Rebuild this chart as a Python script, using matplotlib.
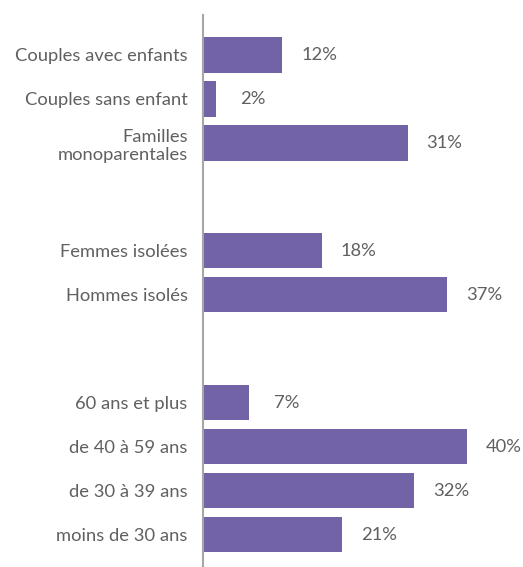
import matplotlib.pyplot as plt
from matplotlib.transforms import offset_copy

# ================== données ==================
categories = ['Couples avec enfants', 'Couples sans enfant', 'Familles\nmonoparentales',
              'Femmes isolées', 'Hommes isolés',
              '60 ans et plus', 'de 40 à 59 ans', 'de 30 à 39 ans', 'moins de 30 ans']
values = [12, 2, 31, 18, 37, 7, 40, 32, 21]
value_labels = ['12%', '2%', '31%', '18%', '37%', '7%', '40%', '32%', '21%']

# positions (3 groupes séparés par un espace)
positions = [0, 1, 2, 4.45, 5.45, 7.9, 8.9, 9.9, 10.9]

bar_color = '#7263a7'
text_color = '#606060'

plt.rcParams['font.family'] = ['Lato', 'DejaVu Sans']

fig = plt.figure(figsize=(5.23, 5.67), dpi=100)
ax = fig.add_axes([203 / 523, 0, 320 / 523, 552 / 567])

ax.barh(positions, values, height=0.8, color=bar_color)
ax.set_xlim(0, 320 / 6.6)
ax.set_ylim(11.636, -0.909)

ax.set_yticks(positions)
ax.set_yticklabels(categories, fontsize=13.2, color=text_color, ha='right',
                   multialignment='right', linespacing=1.2)
ax.tick_params(axis='y', length=0, pad=11)
ax.set_xticks([])

for s in ['top', 'right', 'bottom']:
    ax.spines[s].set_visible(False)
ax.spines['left'].set_color('#a6a6a6')
ax.spines['left'].set_linewidth(1.5)

trans = offset_copy(ax.transData, fig=fig, x=37, y=0, units='dots')
for p, v, lab in zip(positions, values, value_labels):
    ax.text(v, p, lab, transform=trans, ha='center', va='center',
            fontsize=13.2, color=text_color)

fig.savefig('out.png', dpi=100)
